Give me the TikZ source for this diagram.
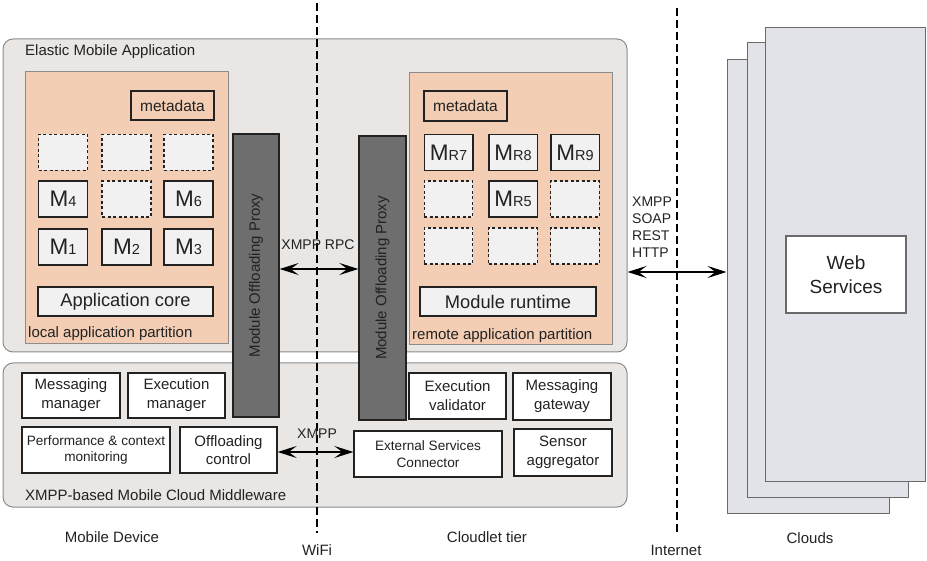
\documentclass[tikz,border=0pt]{standalone}
\usepackage{fontspec}
\setmainfont{Liberation Sans}
\usetikzlibrary{arrows.meta}

\definecolor{panel}{HTML}{EAE6E3}
\definecolor{panelline}{HTML}{8C8C8C}
\definecolor{peach}{HTML}{F3CDB4}
\definecolor{modfill}{HTML}{F1F1F1}
\definecolor{proxyfill}{HTML}{6E6E6E}
\definecolor{cloudfill}{HTML}{E2E3E8}
\definecolor{cloudline}{HTML}{6A6A6A}
\definecolor{ink}{HTML}{222222}

\newcommand\fsz[2]{\fontsize{#1}{#2}\selectfont}
% module label: large M with a small suffix on the baseline
\newcommand\modlab[1]{{\fsz{22.5}{22.5}M}{\fsz{14.5}{14.5}#1}}

\tikzset{
  panelbox/.style={draw=panelline, fill=panel, rounded corners=10pt, line width=1pt, inner sep=0pt},
  partbox/.style={draw=panelline, fill=peach, line width=1pt, inner sep=0pt},
  mod/.style={draw=ink, fill=modfill, line width=1.5pt, minimum width=49pt, minimum height=36pt, inner sep=0pt, text=ink},
  ghost/.style={mod, dash pattern=on 3pt off 2.5pt, line width=1.3pt},
  meta/.style={draw=ink, fill=peach, line width=1.3pt, minimum width=83pt, minimum height=29pt, inner sep=0pt, font=\fsz{15.5}{18}, text=ink},
  bar/.style={draw=ink, fill=modfill, line width=1.3pt, minimum height=29pt, inner sep=0pt, font=\fsz{18.3}{22}, text=ink},
  proxy/.style={draw=ink, fill=proxyfill, line width=1.3pt, inner sep=0pt},
  svc/.style={draw=ink, fill=white, line width=1.3pt, align=center, inner sep=0pt, text=ink, font=\fsz{15}{19}},
  svcsmall/.style={svc, font=\fsz{13.6}{16.5}},
  cloud/.style={draw=cloudline, fill=cloudfill, line width=1pt, inner sep=0pt},
  boundary/.style={draw=black, line width=1.5pt, dash pattern=on 8pt off 4pt},
  link/.style={line width=1.8pt, {Stealth[length=19pt,width=12pt,inset=8pt]}-{Stealth[length=19pt,width=12pt,inset=8pt]}},
  lbl/.style={font=\fsz{15}{18}, text=ink, inner sep=0pt},
  proto/.style={font=\fsz{14}{16.8}, text=ink, inner sep=0pt, align=left},
}

\begin{document}
\begin{tikzpicture}[x=1pt, y=-1pt]
\useasboundingbox (0,0) rectangle (927,561);

% ---------- clouds ----------
\node[cloud, minimum width=162pt, minimum height=453pt] (cloudc) at (808,286.5) {};
\node[cloud, minimum width=161pt, minimum height=454pt] (cloudb) at (827.5,270) {};
\node[cloud, minimum width=160pt, minimum height=453pt] (clouda) at (845,254.5) {};
\node[svc, minimum width=120pt, minimum height=77pt, font=\fsz{19}{24}, draw=cloudline, line width=1.2pt] (ws) at (846,274.5) {Web\\Services};

% ---------- elastic mobile application ----------
\node[panelbox, minimum width=624pt, minimum height=313pt] (app) at (315,195.5) {};
\node[lbl, anchor=west] (apptitle) at (25,52) {Elastic Mobile Application};

% local partition
\node[partbox, minimum width=203pt, minimum height=272pt] (lp) at (126.5,208) {};
\node[lbl, anchor=west] (lplabel) at (28,334) {local application partition};
\node[meta] (lmeta) at (172.5,105.5) {metadata};
\node[ghost] (l11) at (63,152.5) {};
\node[ghost] (l12) at (126.5,152.5) {};
\node[ghost] (l13) at (188.5,152.5) {};
\node[mod] (m4) at (63,199) {\modlab{4}};
\node[ghost] (l22) at (126.5,199) {};
\node[mod] (m6) at (188.5,199) {\modlab{6}};
\node[mod] (m1) at (63,247) {\modlab{1}};
\node[mod] (m2) at (126.5,247) {\modlab{2}};
\node[mod] (m3) at (188.5,247) {\modlab{3}};
\node[bar, minimum width=175pt] (core) at (125.5,301.5) {Application core};

% remote partition
\node[partbox, minimum width=203pt, minimum height=272pt] (rp) at (510.5,209) {};
\node[lbl, anchor=west] (rplabel) at (412,336) {remote application partition};
\node[meta, minimum height=30pt] (rmeta) at (465.5,106) {metadata};
\node[mod, minimum width=48.5pt] (mr7) at (448.5,152.5) {\modlab{R7}};
\node[mod, minimum width=48.5pt] (mr8) at (513,152.5) {\modlab{R8}};
\node[mod, minimum width=48.5pt] (mr9) at (575,152.5) {\modlab{R9}};
\node[ghost, minimum width=48.5pt] (r21) at (448.5,199) {};
\node[mod, minimum width=48.5pt] (mr5) at (513,199) {\modlab{R5}};
\node[ghost, minimum width=48.5pt] (r23) at (575,199) {};
\node[ghost, minimum width=48.5pt] (r31) at (448.5,246) {};
\node[ghost, minimum width=48.5pt] (r32) at (513,246) {};
\node[ghost, minimum width=48.5pt] (r33) at (575,246) {};
\node[bar, minimum width=176pt] (runtime) at (508,301.5) {Module runtime};

% ---------- middleware ----------
\node[panelbox, minimum width=624pt, minimum height=144pt] (mw) at (315,435) {};
\node[lbl, anchor=west] (mwlabel) at (25,495) {XMPP-based Mobile Cloud Middleware};
\node[svc, minimum width=98pt, minimum height=45pt] (msgm) at (71,395.5) {Messaging\\manager};
\node[svc, minimum width=97pt, minimum height=45pt] (exem) at (176.5,395.5) {Execution\\manager};
\node[svcsmall, minimum width=148pt, minimum height=46pt] (perf) at (96,450) {Performance \& context\\monitoring};
\node[svc, minimum width=97pt, minimum height=46pt, font=\fsz{15}{18}] (offc) at (228.5,450) {Offloading\\control};
\node[svc, minimum width=97pt, minimum height=46pt] (exev) at (457.5,396) {Execution\\validator};
\node[svc, minimum width=98pt, minimum height=47pt] (msgg) at (562,396.5) {Messaging\\gateway};
\node[svcsmall, minimum width=148pt, minimum height=46pt] (esc) at (428,454) {External Services\\Connector};
\node[svc, minimum width=98pt, minimum height=47pt] (sens) at (563,452.5) {Sensor\\aggregator};

% ---------- offloading proxies ----------
\node[proxy, minimum width=46pt, minimum height=283pt] (pl) at (256,275.5) {};
\node[lbl, rotate=90] (pltext) at (pl.center) {Module Offloading Proxy};
\node[proxy, minimum width=47pt, minimum height=284pt] (pr) at (382.5,278) {};
\node[lbl, rotate=90] (prtext) at (pr.center) {Module Offloading Proxy};

% ---------- network boundaries ----------
\coordinate (wifitop) at (317,3);
\coordinate (wifibot) at (317,533);
\coordinate (nettop) at (677,8);
\coordinate (netbot) at (677,534);
\draw[boundary] (wifitop) -- (wifibot);
\draw[boundary] (nettop) -- (netbot);

% ---------- links ----------
\coordinate (yrpc) at (0,269);
\coordinate (yxmpp) at (0,452);
\coordinate (yinet) at (0,272);
\draw[link] (pl.east |- yrpc) -- (pr.west |- yrpc);
\draw[link] (offc.east |- yxmpp) -- (esc.west |- yxmpp);
\draw[link] (app.east |- yinet) -- (cloudc.west |- yinet);
\node[lbl, font=\fsz{14}{16.8}] (rpclabel) at (318,245) {XMPP RPC};
\node[lbl, font=\fsz{14}{16.8}] (xmpplabel) at (317,434) {XMPP};
\node[proto, anchor=west] (protos) at (632,227) {XMPP\\SOAP\\REST\\HTTP};

% ---------- tier labels ----------
\node[lbl] (tdev) at (112,537) {Mobile Device};
\node[lbl] (twifi) at (317,550) {WiFi};
\node[lbl] (tcloudlet) at (487,537) {Cloudlet tier};
\node[lbl] (tinet) at (676,550) {Internet};
\node[lbl] (tclouds) at (810,538) {Clouds};
\end{tikzpicture}
\end{document}
